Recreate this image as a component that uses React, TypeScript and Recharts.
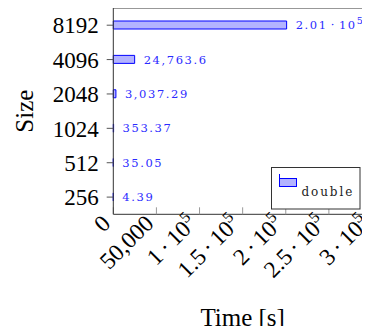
import React from 'react'
import { BarChart, Bar, XAxis, YAxis, Legend, LabelList } from 'recharts'

// matrix sizes, bottom to top
const sizes = ['256', '512', '1024', '2048', '4096', '8192']
// measured run times [s]
const times = [4.39, 35.05, 353.37, 3037.29, 24763.6, 201000]
const timeTicks = [0, 50000, 100000, 150000, 200000, 250000, 300000]

const data = sizes.map((size, i) => ({ size, time: times[i] }))

const SERIF = '"Liberation Serif", "Times New Roman", serif'
const SMALL = '"DejaVu Serif", serif'
const BLUE = '#0000ff'
const LABEL_BLUE = '#2b2bff'

// pgfplots-ish number format: 50,000 / 1.5 · 10^5
const fmt = (v: number): [string, string | null] => {
  if (v >= 100000) {
    const exp = Math.floor(Math.log10(v))
    const m = +(v / Math.pow(10, exp)).toFixed(2)
    return [`${m}`, `${exp}`]
  }
  return [v.toLocaleString('en-US', { maximumFractionDigits: 2 }), null]
}

const TimeTick = ({ x, y, payload }: any) => {
  const [main, exp] = fmt(payload.value)
  return (
    <g transform={`translate(${x - 7},${y - 4})`}>
      <text transform="rotate(-45)" x={0} y={7.8} textAnchor="end" fontSize={23.5} fontFamily={SERIF} fill="#000">
        {main}
        {exp && <tspan dx={4}>·</tspan>}
        {exp && <tspan dx={4}>10</tspan>}
        {exp && <tspan dy={-9.5} fontSize={16}>{exp}</tspan>}
      </text>
    </g>
  )
}

const ValueLabel = ({ x, y, width, height, value }: any) => {
  const [main, exp] = fmt(value)
  return (
    <text
      x={x + width + 9}
      y={y + height / 2 + 4.2}
      fontSize={11.5}
      fontFamily={SMALL}
      letterSpacing={1.6}
      fill={LABEL_BLUE}
    >
      {main}
      {exp && <tspan dx={3}>·</tspan>}
      {exp && <tspan dx={3}>10</tspan>}
      {exp && <tspan dy={-5} fontSize={9.5}>{exp}</tspan>}
    </text>
  )
}

const LegendBox = ({ payload }: any) => (
  <svg width={90} height={43} style={{ display: 'block' }}>
    <rect x={0.5} y={0.5} width={88.5} height={41.5} fill="#fff" stroke="#333" />
    <path d="M8.5 7 V20" stroke={BLUE} />
    <rect x={8.5} y={11.5} width={17} height={8} fill="#b3b3ff" stroke={BLUE} />
    <text x={30.5} y={29} fontSize={12} fontFamily={SMALL} letterSpacing={1.9} fill="#222">
      {payload && payload[0] ? payload[0].value : 'double'}
    </text>
  </svg>
)

export default function App() {
  return (
    <div style={{ margin: -8, width: 370, height: 334, overflow: 'hidden', background: '#fff' }}>
      <BarChart
        width={380}
        height={334}
        data={data}
        layout="vertical"
        margin={{ top: 0, right: 8, bottom: 0, left: 0 }}
      >
        <XAxis
          type="number"
          dataKey="time"
          domain={[0, 300000]}
          ticks={timeTicks}
          interval={0}
          height={119.7}
          axisLine={{ stroke: '#333' }}
          tickLine={{ stroke: '#999' }}
          tickSize={-7}
          tickMargin={16}
          tick={<TimeTick />}
          label={(p: any) => (
            <text
              x={p.viewBox.x + p.viewBox.width / 2}
              y={p.viewBox.y + 111.5}
              textAnchor="middle"
              fontSize={25}
              fontFamily={SERIF}
              fill="#000"
            >
              Time [s]
            </text>
          )}
        />
        <XAxis
          xAxisId="top"
          orientation="top"
          type="number"
          domain={[0, 300000]}
          ticks={timeTicks}
          interval={0}
          height={8}
          axisLine={{ stroke: '#333' }}
          tickLine={{ stroke: '#999' }}
          tickSize={-7}
          tick={false}
        />
        <YAxis
          type="category"
          dataKey="size"
          reversed
          width={113.3}
          axisLine={{ stroke: '#333' }}
          tickLine={{ stroke: '#555' }}
          tickSize={6.6}
          tickMargin={8}
          interval={0}
          tick={{ fontSize: 23, fontFamily: SERIF, fill: '#000' }}
          label={(p: any) => (
            <text
              transform={`translate(33,${p.viewBox.y + p.viewBox.height / 2}) rotate(-90)`}
              textAnchor="middle"
              fontSize={25}
              fontFamily={SERIF}
              fill="#000"
            >
              Size
            </text>
          )}
        />
        <Legend
          layout="vertical"
          align="center"
          verticalAlign="middle"
          content={<LegendBox />}
          wrapperStyle={{ left: 271, top: 167, width: 90, height: 43 }}
        />
        <Bar
          dataKey="time"
          name="double"
          fill="#b3b3ff"
          stroke={BLUE}
          strokeWidth={1}
          barSize={8}
          isAnimationActive={false}
        >
          <LabelList dataKey="time" content={<ValueLabel />} />
        </Bar>
      </BarChart>
    </div>
  )
}
